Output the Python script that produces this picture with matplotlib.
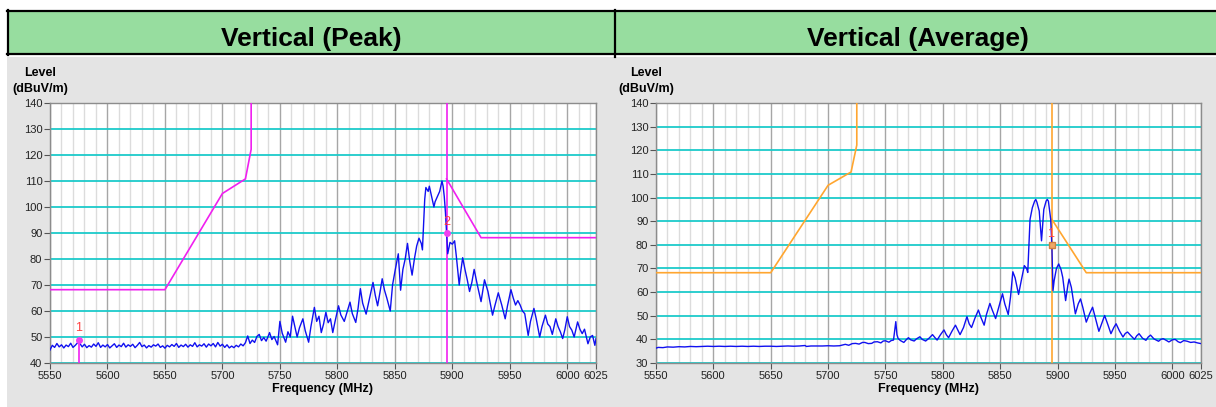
import matplotlib
matplotlib.use("Agg")
import matplotlib.pyplot as plt
from matplotlib.patches import Rectangle
from matplotlib.lines import Line2D
from matplotlib.ticker import FixedLocator, MultipleLocator

plt.rcParams['font.family'] = ['Liberation Sans', 'DejaVu Sans']

# ---- data ----
peak_freq = [5550, 5552, 5554, 5556, 5558, 5560, 5562, 5564, 5566, 5568, 5570, 5572, 5574, 5575, 5576,
             5578, 5580, 5582, 5584, 5586, 5588, 5590, 5592, 5594, 5596, 5598, 5600, 5602, 5604, 5606,
             5608, 5610, 5612, 5614, 5616, 5618, 5620, 5622, 5624, 5626, 5628, 5630, 5632, 5634, 5636,
             5638, 5640, 5642, 5644, 5646, 5648, 5650, 5652, 5654, 5656, 5658, 5660, 5662, 5664, 5666,
             5668, 5670, 5672, 5674, 5676, 5678, 5680, 5682, 5684, 5686, 5688, 5690, 5692, 5694, 5696,
             5698, 5700, 5702, 5704, 5706, 5708, 5710, 5712, 5714, 5716, 5718, 5720,
             5722, 5724, 5726, 5728, 5730, 5732, 5734, 5736, 5738, 5740, 5741, 5743, 5745, 5748, 5750,
             5752, 5755, 5757, 5759, 5761, 5763, 5765, 5767, 5770, 5772, 5775, 5777, 5780, 5782, 5784,
             5786, 5788, 5790, 5792, 5794, 5796, 5798, 5801, 5803, 5806, 5808, 5811, 5813, 5816, 5818,
             5820, 5822, 5825, 5828, 5831, 5833, 5835, 5837, 5839, 5841, 5843, 5846, 5848, 5850, 5853,
             5855, 5857, 5859, 5861, 5863, 5865, 5867, 5869, 5871, 5873, 5874, 5876, 5877, 5879, 5880,
             5882, 5884, 5885, 5887, 5889, 5891, 5892, 5893, 5894, 5895, 5896, 5898, 5900, 5902, 5903.5,
             5906, 5907, 5909, 5911, 5913, 5915, 5917, 5919, 5922, 5925, 5928, 5931, 5933, 5935, 5937,
             5940, 5943, 5946, 5948, 5951, 5953, 5955, 5957, 5959, 5961, 5963, 5966, 5968, 5971, 5973,
             5976, 5978, 5981, 5983, 5985, 5987, 5990, 5992, 5994, 5996, 5998, 6000, 6002, 6004, 6006,
             6009, 6011, 6013, 6015, 6018, 6020, 6022, 6024, 6025]
peak_level = [45.0, 46.8, 46.0, 47.5, 46.2, 47.0, 45.8, 46.9, 46.3, 47.6, 46.0, 46.8, 47.8, 49.0, 47.5,
              46.2, 47.2, 45.9, 46.7, 46.1, 47.3, 46.4, 47.8, 46.0, 46.9, 46.2, 47.1, 45.8, 46.6, 47.4,
              46.0, 46.9, 46.3, 47.6, 46.1, 47.0, 46.4, 47.2, 45.9, 46.8, 47.9, 46.3, 46.9, 45.8, 46.7,
              46.1, 47.0, 46.5, 47.3, 46.0, 46.6, 45.7, 46.8, 46.2, 47.1, 46.4, 47.5, 46.0, 46.9, 46.3,
              47.2, 46.1, 47.0, 46.4, 47.8, 46.2, 47.0, 46.5, 47.4, 46.1, 47.3, 46.6, 47.5, 46.2, 47.9,
              46.5, 47.2, 46.0, 47.0, 45.8, 46.5, 45.9, 46.8, 46.2, 47.3, 46.6, 47.8,
              50.4, 47.5, 48.8, 47.9, 50.2, 51.0, 48.6, 49.8, 48.4, 50.5, 51.7, 49.0, 50.2, 47.0, 56.0,
              51.5, 48.0, 52.0, 50.0, 58.0, 54.0, 50.0, 53.5, 57.0, 52.5, 48.0, 54.0, 61.4, 56.0, 58.0,
              51.7, 55.0, 59.5, 55.5, 57.0, 51.7, 56.0, 62.0, 58.5, 56.0, 59.0, 63.4, 59.0, 55.6, 61.0,
              68.6, 63.0, 58.8, 65.0, 71.0, 66.0, 62.0, 67.0, 72.4, 68.0, 65.0, 60.0, 70.0, 75.0, 82.0,
              68.0, 76.0, 80.0, 86.0, 79.0, 73.8, 80.0, 85.0, 88.0, 86.0, 83.5, 103.0, 107.5, 106.0, 108.0,
              104.0, 100.0, 102.0, 104.0, 106.0, 110.0, 108.0, 104.0, 98.0, 90.0, 82.0, 86.4, 85.7, 87.0, 81.0,
              70.0, 74.0, 80.5, 76.0, 72.0, 67.5, 71.0, 76.0, 69.5, 63.6, 72.0, 67.5, 63.0, 58.4, 62.0,
              67.0, 62.3, 57.0, 62.0, 68.2, 65.0, 62.3, 64.0, 62.3, 60.0, 59.0, 50.6, 56.0, 61.0, 57.0,
              50.0, 54.0, 58.4, 55.0, 54.0, 51.0, 57.0, 54.0, 52.0, 49.4, 53.0, 57.8, 54.0, 52.6, 50.0,
              55.8, 53.0, 51.3, 53.0, 47.4, 50.0, 50.6, 46.8, 49.4]

avg_freq = [5550, 5552, 5556, 5560, 5565, 5570, 5575, 5580, 5585, 5590, 5595, 5600, 5605, 5610, 5615,
            5620, 5625, 5630, 5635, 5640, 5645, 5650, 5655, 5660, 5665, 5670, 5675, 5680, 5681, 5685,
            5690, 5695, 5700, 5705, 5710, 5715, 5718, 5721, 5724, 5727, 5730, 5732, 5735, 5738, 5740,
            5743, 5746, 5748, 5750, 5753, 5755, 5757, 5759, 5760, 5761, 5763, 5766, 5768, 5770, 5772,
            5775, 5777, 5780, 5782, 5785, 5788, 5791, 5793, 5795, 5798, 5801, 5803, 5805, 5808, 5811,
            5813, 5815, 5818, 5821, 5823, 5825, 5828, 5831, 5833, 5836, 5838, 5841, 5843, 5846, 5849,
            5852, 5854, 5857, 5859, 5861, 5863, 5866, 5868, 5871, 5873, 5874, 5875, 5876, 5878, 5880,
            5881, 5882, 5884, 5886, 5888, 5890, 5891, 5892, 5894, 5895, 5896, 5897, 5899, 5901, 5903,
            5904.5, 5907, 5909, 5910, 5912, 5915.5, 5918, 5920, 5922, 5925, 5928, 5930.5, 5933, 5936, 5939,
            5941, 5944, 5946.5, 5949, 5951, 5954, 5957, 5959, 5961, 5964, 5967, 5969, 5971, 5974, 5977,
            5979, 5981, 5984, 5988, 5990, 5992, 5995, 5997, 6000, 6002.5, 6005, 6007, 6010, 6013, 6016,
            6019, 6022, 6025]
avg_level = [36.3, 36.6, 36.5, 36.8, 36.7, 36.9, 36.8, 37.0, 36.9, 37.0, 37.1, 37.0, 37.1, 37.0, 37.1,
             37.0, 37.1, 37.0, 37.1, 37.0, 37.1, 37.1, 37.0, 37.1, 37.2, 37.1, 37.2, 37.4, 37.0, 37.2,
             37.2, 37.2, 37.3, 37.2, 37.3, 37.9, 37.5, 38.2, 38.3, 38.0, 38.7, 38.7, 38.2, 38.3, 38.9,
             39.0, 38.5, 39.3, 39.4, 38.8, 39.5, 39.7, 47.5, 42.0, 40.4, 39.5, 38.7, 39.8, 40.7, 39.8,
             39.3, 40.2, 41.1, 40.0, 39.3, 40.5, 42.0, 40.8, 39.7, 42.0, 44.0, 42.0, 40.7, 43.5, 46.0,
             44.0, 42.0, 45.0, 49.6, 46.5, 45.0, 49.0, 52.4, 49.5, 46.0, 50.5, 55.2, 52.5, 48.8, 54.0,
             59.3, 55.0, 50.5, 58.0, 68.6, 66.0, 59.0, 64.0, 71.2, 70.0, 68.3, 80.0, 90.8, 95.7, 98.5,
             99.2, 98.0, 94.3, 81.7, 95.0, 98.5, 99.2, 98.5, 90.8, 80.0, 60.6, 64.8, 70.0, 71.9, 69.5,
             66.2, 56.4, 63.0, 65.5, 62.0, 50.8, 55.0, 57.1, 53.5, 47.3, 51.0, 53.6, 49.0, 43.4, 47.5,
             50.1, 46.0, 42.4, 45.0, 46.6, 43.5, 41.0, 42.5, 43.1, 41.5, 40.0, 41.5, 42.4, 40.5, 39.6,
             41.0, 41.8, 40.2, 39.2, 40.0, 40.3, 39.5, 38.9, 39.8, 40.0, 39.0, 38.6, 39.5, 39.2, 38.7,
             38.9, 38.5, 38.2]

# limit lines
mask_left_f = [5550, 5650, 5700, 5720, 5725, 5725]
mask_left_l = [68.2, 68.2, 105.2, 110.8, 122.2, 140]
peak_right_f = [5895, 5925, 6025]
peak_right_l = [110.8, 88.2, 88.2]
avg_right_f = [5895, 5925, 6025]
avg_right_l = [90.8, 68.2, 68.2]

band_edge = 5895
x_ticks = [5550, 5600, 5650, 5700, 5750, 5800, 5850, 5900, 5950, 6000, 6025]

W, H = 1216, 407
fig = plt.figure(figsize=(W / 100, H / 100), dpi=100)


def rect(x0, y0, x1, y1, **kw):
    # pixel box, y measured from top
    fig.add_artist(Rectangle((x0 / W, 1 - y1 / H), (x1 - x0) / W, (y1 - y0) / H,
                             transform=fig.transFigure, zorder=-5, **kw))


def hline(x0, x1, y, lw=2):
    fig.add_artist(Line2D([x0 / W, x1 / W], [1 - y / H, 1 - y / H], color='black', lw=lw,
                          transform=fig.transFigure))


def vline(x, y0, y1, lw=2):
    fig.add_artist(Line2D([x / W, x / W], [1 - y0 / H, 1 - y1 / H], color='black', lw=lw,
                          transform=fig.transFigure))


# background, title band and borders
rect(7, 57, W, H, color='#e4e4e4', lw=0)
rect(7, 10, W, 54, color='#97dd9f', lw=0)
hline(7, W, 10.5, lw=1.6)
hline(7, W, 54, lw=1.6)
vline(7.5, 10, 54.5, lw=1.6)
vline(614.5, 10, 57, lw=1.6)

fig.text(311 / W, 1 - 39 / H, 'Vertical (Peak)', ha='center', va='center', fontsize=19,
         fontweight='bold')
fig.text(918 / W, 1 - 39 / H, 'Vertical (Average)', ha='center', va='center', fontsize=19,
         fontweight='bold')


def panel(x0, x1, ymin, trace_f, trace_l, limit_color, right_f, right_l):
    y0, y1 = 103, 363
    ax = fig.add_axes([x0 / W, 1 - y1 / H, (x1 - x0) / W, (y1 - y0) / H])
    ax.set_facecolor('white')
    ax.set_xlim(5550, 6025)
    ax.set_ylim(ymin, 140)
    ax.xaxis.set_major_locator(FixedLocator(x_ticks))
    ax.xaxis.set_minor_locator(MultipleLocator(10))
    ax.yaxis.set_major_locator(MultipleLocator(10))
    ax.set_axisbelow(True)
    ax.grid(axis='x', which='minor', color='#dcdcdc', lw=1.0)
    ax.grid(axis='x', which='major', color='#a6a6a6', lw=1.0)
    ax.grid(axis='y', which='major', color='#1ccaca', lw=1.3)
    ax.tick_params(which='minor', length=0)
    ax.tick_params(which='major', length=4, width=0.8, color='#555555', labelsize=8,
                   labelcolor='#222222', pad=1.5)
    for s in ax.spines.values():
        s.set_color('#8c8c8c')
        s.set_linewidth(1.0)

    ax.plot(mask_left_f, mask_left_l, color=limit_color, lw=1.2, zorder=3)
    ax.plot(right_f, right_l, color=limit_color, lw=1.2, zorder=3)
    ax.axvline(band_edge, color=limit_color, lw=1.2, zorder=3)
    ax.plot(trace_f, trace_l, color='#1010f0', lw=1.0, zorder=4)

    ax.set_xlabel('Frequency (MHz)', fontsize=9, fontweight='bold', labelpad=1.5)
    cx = (x0 - 10) / W
    fig.text(cx, 1 - 72.5 / H, 'Level', ha='center', va='center', fontsize=9, fontweight='bold')
    fig.text(cx, 1 - 89 / H, '(dBuV/m)', ha='center', va='center', fontsize=9, fontweight='bold')
    return ax


ax1 = panel(50, 596, 40, peak_freq, peak_level, '#f020f0', peak_right_f, peak_right_l)
ax1.plot([5575, 5575], [40, 49], color='#f020f0', lw=1.2, zorder=5)
ax1.plot([5575], [49], 'o', color='#f040f0', ms=4, zorder=6)
ax1.text(5575, 51, '1', color='#ff4040', ha='center', va='bottom', fontsize=9, zorder=6)
ax1.plot([5895], [90], 'o', color='#f040f0', ms=4, zorder=6)
ax1.text(5895, 92, '2', color='#ff4040', ha='center', va='bottom', fontsize=9, zorder=6)

ax2 = panel(656, 1201, 30, avg_freq, avg_level, '#ffa630', avg_right_f, avg_right_l)
ax2.plot([5895], [80], 's', mfc='#f0a868', mec='#d08040', ms=4, zorder=6)
ax2.text(5894, 82, '1', color='#ff4040', ha='center', va='bottom', fontsize=9, zorder=6)

fig.savefig('out.png', dpi=100)
